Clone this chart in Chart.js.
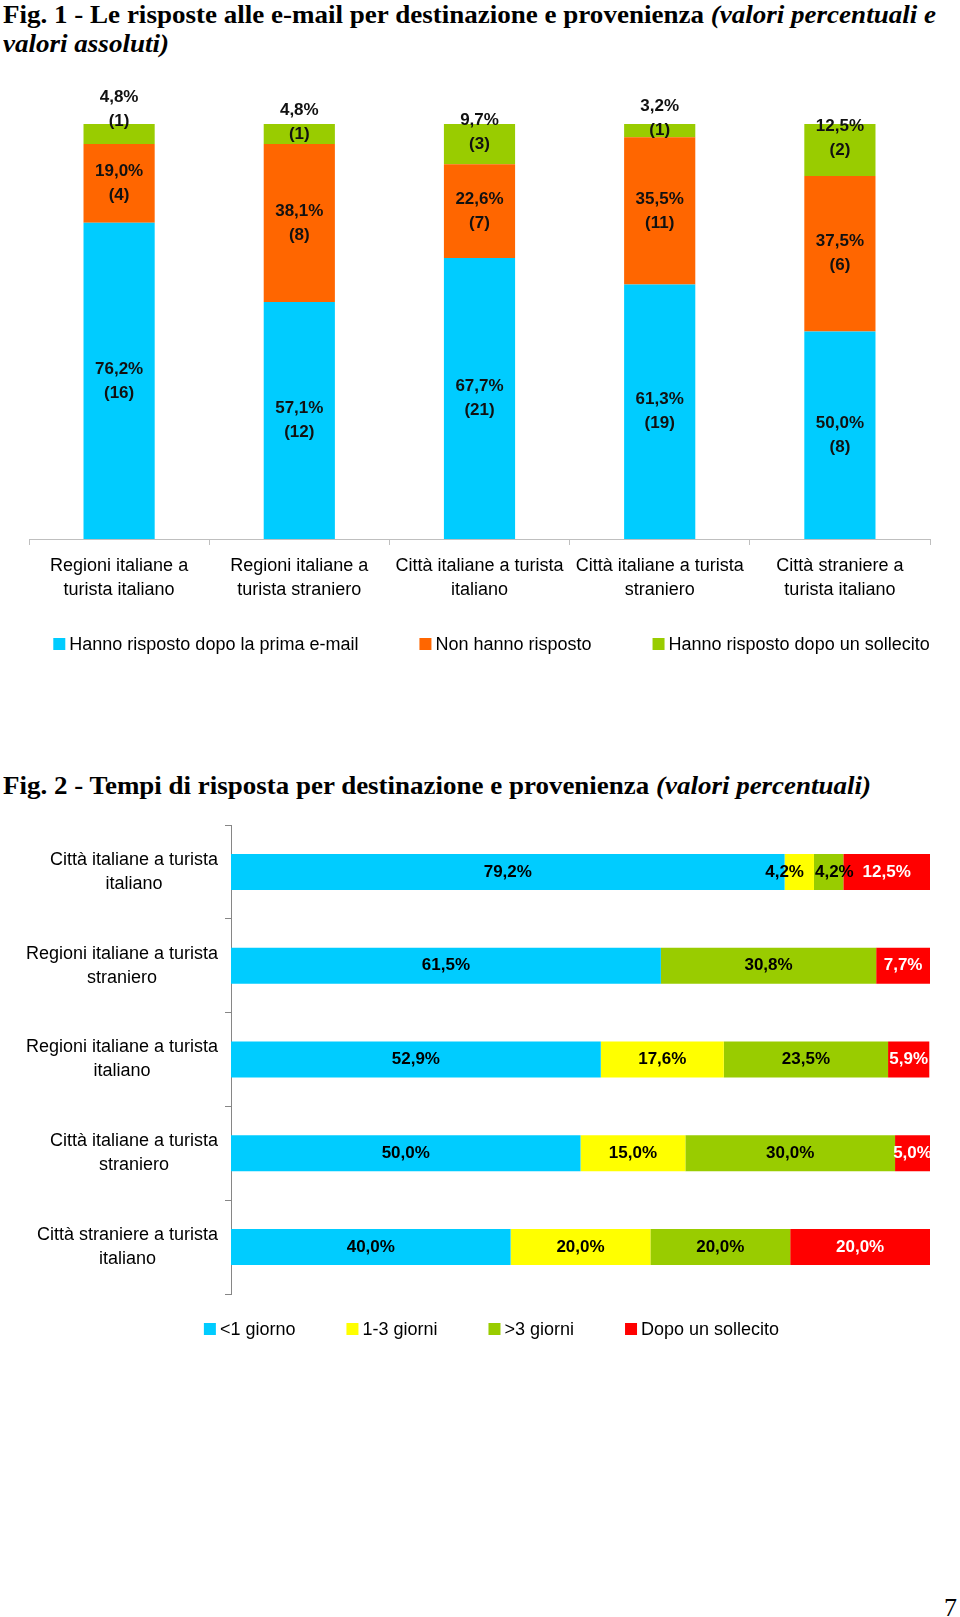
<!DOCTYPE html>
<html>
<head>
<meta charset="utf-8">
<script src="https://cdn.jsdelivr.net/npm/chart.js@4.4.1/dist/chart.umd.min.js"></script>
<style>
  body { margin: 0; width: 960px; height: 1617px; background: #fff; position: relative; overflow: hidden; }
  .title { position: absolute; left: 3px; font-family: 'Liberation Serif', 'Times New Roman', serif; font-weight: bold;
           font-size: 26px; line-height: 29px; white-space: nowrap; transform-origin: 0 0; color: #000; }
  canvas { position: absolute; left: 0; }
  #pagina { position: absolute; right: 3px; top: 1593px; font-family: 'Liberation Serif', serif; font-size: 26px; }
</style>
</head>
<body>
<div class="title" id="t1" style="top:0px"><span id="t1a">Fig. 1 - Le risposte alle e-mail per destinazione e provenienza <i>(valori percentuali e</i></span><br><i>valori assoluti)</i></div>
<canvas id="grafico1" width="960" height="620" style="top:60px"></canvas>
<div class="title" id="t2" style="top:771px"><span id="t2a">Fig. 2 - Tempi di risposta per destinazione e provenienza <i>(valori percentuali)</i></span></div>
<canvas id="grafico2" width="960" height="570" style="top:790px"></canvas>
<div id="pagina">7</div>
<script>
// Fig. 1
var categorie1 = [['Regioni italiane a', 'turista italiano'], ['Regioni italiane a', 'turista straniero'],
  ['Città italiane a turista', 'italiano'], ['Città italiane a turista', 'straniero'], ['Città straniere a', 'turista italiano']];
var primaEmail = [76.2, 57.1, 67.7, 61.3, 50.0];
var nonRisposto = [19.0, 38.1, 22.6, 35.5, 37.5];
var dopoSollecito = [4.8, 4.8, 9.7, 3.2, 12.5];
var nPrimaEmail = [16, 12, 21, 19, 8];
var nNonRisposto = [4, 8, 7, 11, 6];
var nDopoSollecito = [1, 1, 3, 1, 2];

// Fig. 2
var categorie2 = [['Città italiane a turista', 'italiano'], ['Regioni italiane a turista', 'straniero'],
  ['Regioni italiane a turista', 'italiano'], ['Città italiane a turista', 'straniero'], ['Città straniere a turista', 'italiano']];
var menoUnGiorno = [79.2, 61.5, 52.9, 50.0, 40.0];
var unoTreGiorni = [4.2, 0, 17.6, 15.0, 20.0];
var oltreTreGiorni = [4.2, 30.8, 23.5, 30.0, 20.0];
var sollecito2 = [12.5, 7.7, 5.9, 5.0, 20.0];

var FONT = '"Liberation Sans", Arial, sans-serif';
Chart.defaults.font.family = FONT;
Chart.defaults.color = '#000';

function pct(v) { return v.toFixed(1).replace('.', ',') + '%'; }

// legend drawn evenly spaced like the original
var legenda = {
  id: 'legenda',
  afterDraw: function(chart, args, opts) {
    var ctx = chart.ctx;
    ctx.save();
    ctx.font = '18px ' + FONT;
    ctx.textBaseline = 'middle';
    var items = chart.data.datasets.map(function(ds) {
      return { text: ds.label, color: ds.backgroundColor, w: 16 + ctx.measureText(ds.label).width };
    });
    var total = items.reduce(function(s, it) { return s + it.w; }, 0) + opts.gap * (items.length - 1);
    var x = opts.centerX - total / 2;
    items.forEach(function(it) {
      ctx.fillStyle = it.color;
      ctx.fillRect(x, opts.y - 6, 12, 12);
      ctx.fillStyle = '#000';
      ctx.fillText(it.text, x + 16, opts.y + 1);
      x += it.w + opts.gap;
    });
    ctx.restore();
  }
};

var etichette1 = {
  id: 'etichette1',
  afterDatasetsDraw: function(chart) {
    var ctx = chart.ctx;
    var n = chart.data.datasets.length;
    ctx.save();
    ctx.font = 'bold 17px ' + FONT;
    ctx.fillStyle = '#111';
    ctx.textAlign = 'center';
    ctx.textBaseline = 'middle';
    chart.data.datasets.forEach(function(ds, i) {
      chart.getDatasetMeta(i).data.forEach(function(bar, j) {
        var cy = (bar.y + bar.base) / 2;
        if (i === n - 1) {
          // top segment is thin: push label up, away from the one below
          var prev = chart.getDatasetMeta(i - 1).data[j];
          cy = Math.min(cy - 12, (prev.y + prev.base) / 2 - 74);
        }
        ctx.fillText(pct(ds.data[j]), bar.x, cy - 12);
        ctx.fillText('(' + ds.conteggi[j] + ')', bar.x, cy + 12);
      });
    });
    ctx.restore();
  }
};

var etichette2 = {
  id: 'etichette2',
  afterDatasetsDraw: function(chart) {
    var ctx = chart.ctx;
    ctx.save();
    ctx.font = 'bold 17px ' + FONT;
    ctx.textBaseline = 'middle';
    chart.data.datasets.forEach(function(ds, i) {
      chart.getDatasetMeta(i).data.forEach(function(bar, j) {
        var v = ds.data[j];
        if (!v) return;
        var left = Math.min(bar.x, bar.base);
        var right = Math.min(Math.max(bar.x, bar.base), chart.chartArea.right);
        var t = pct(v);
        var w = ctx.measureText(t).width;
        ctx.fillStyle = ds.coloreTesto;
        if (w > right - left + 4) {
          if (i === 1) { ctx.textAlign = 'right'; ctx.fillText(t, right - 10, bar.y); }
          else { ctx.textAlign = 'left'; ctx.fillText(t, left + 1, bar.y); }
        } else {
          ctx.textAlign = 'center';
          ctx.fillText(t, (left + right) / 2, bar.y);
        }
      });
    });
    ctx.restore();
  }
};

// category labels: block right-aligned to the axis, lines centred inside it
var etichetteAsse = {
  id: 'etichetteAsse',
  afterDraw: function(chart) {
    var s = chart.scales.y;
    var ctx = chart.ctx;
    ctx.save();
    ctx.font = '18px ' + FONT;
    ctx.fillStyle = '#000';
    ctx.textAlign = 'center';
    ctx.textBaseline = 'middle';
    chart.data.labels.forEach(function(lab, i) {
      var y = s.getPixelForTick(i);
      var w = Math.max.apply(null, lab.map(function(l) { return ctx.measureText(l).width; }));
      var cx = s.right - 13 - w / 2;
      lab.forEach(function(l, k) { ctx.fillText(l, cx, y + (k - (lab.length - 1) / 2) * 24); });
    });
    ctx.restore();
  }
};

new Chart(document.getElementById('grafico1'), {
  type: 'bar',
  data: {
    labels: categorie1,
    datasets: [
      { label: 'Hanno risposto dopo la prima e-mail', data: primaEmail, conteggi: nPrimaEmail, backgroundColor: '#00CCFF' },
      { label: 'Non hanno risposto', data: nonRisposto, conteggi: nNonRisposto, backgroundColor: '#FF6600' },
      { label: 'Hanno risposto dopo un sollecito', data: dopoSollecito, conteggi: nDopoSollecito, backgroundColor: '#99CC00' }
    ]
  },
  options: {
    responsive: false,
    animation: false,
    datasets: { bar: { barPercentage: 0.395, categoryPercentage: 1, borderWidth: 0 } },
    layout: { padding: { top: 64, left: 29, right: 30, bottom: 78 } },
    scales: {
      x: {
        stacked: true,
        grid: { drawOnChartArea: false, tickLength: 6, color: '#bfbfbf', offset: true },
        border: { color: '#bfbfbf' },
        ticks: { font: { size: 18, lineHeight: 1.333 }, padding: 9, maxRotation: 0, autoSkip: false },
        afterFit: function(s) { s.height = 63; }
      },
      y: { stacked: true, display: false, min: 0, max: 100 }
    },
    plugins: {
      legend: { display: false },
      tooltip: { enabled: false },
      legenda: { centerX: 491.5, y: 584, gap: 61 }
    }
  },
  plugins: [etichette1, legenda]
});

new Chart(document.getElementById('grafico2'), {
  type: 'bar',
  data: {
    labels: categorie2,
    datasets: [
      { label: '<1 giorno', data: menoUnGiorno, backgroundColor: '#00CCFF', coloreTesto: '#000' },
      { label: '1-3 giorni', data: unoTreGiorni, backgroundColor: '#FFFF00', coloreTesto: '#000' },
      { label: '>3 giorni', data: oltreTreGiorni, backgroundColor: '#99CC00', coloreTesto: '#000' },
      { label: 'Dopo un sollecito', data: sollecito2, backgroundColor: '#FF0000', coloreTesto: '#fff' }
    ]
  },
  options: {
    indexAxis: 'y',
    responsive: false,
    animation: false,
    datasets: { bar: { barPercentage: 0.384, categoryPercentage: 1, borderWidth: 0 } },
    layout: { padding: { top: 35, left: 0, right: 30, bottom: 66 } },
    scales: {
      x: { stacked: true, display: false, min: 0, max: 100 },
      y: {
        stacked: true,
        grid: { drawOnChartArea: false, tickLength: 6, color: '#868686', offset: true },
        border: { color: '#868686' },
        ticks: { display: false },
        afterFit: function(s) { s.width = 231; }
      }
    },
    plugins: {
      legend: { display: false },
      tooltip: { enabled: false },
      legenda: { centerX: 491.5, y: 539, gap: 51 }
    }
  },
  plugins: [etichette2, etichetteAsse, legenda]
});

// squeeze titles to the width of the original
function adatta(idDiv, idRiga, larghezza) {
  var w = document.getElementById(idRiga).getBoundingClientRect().width;
  document.getElementById(idDiv).style.transform = 'scaleX(' + (larghezza / w) + ')';
}
adatta('t1', 't1a', 933);
adatta('t2', 't2a', 868);
</script>
</body>
</html>
